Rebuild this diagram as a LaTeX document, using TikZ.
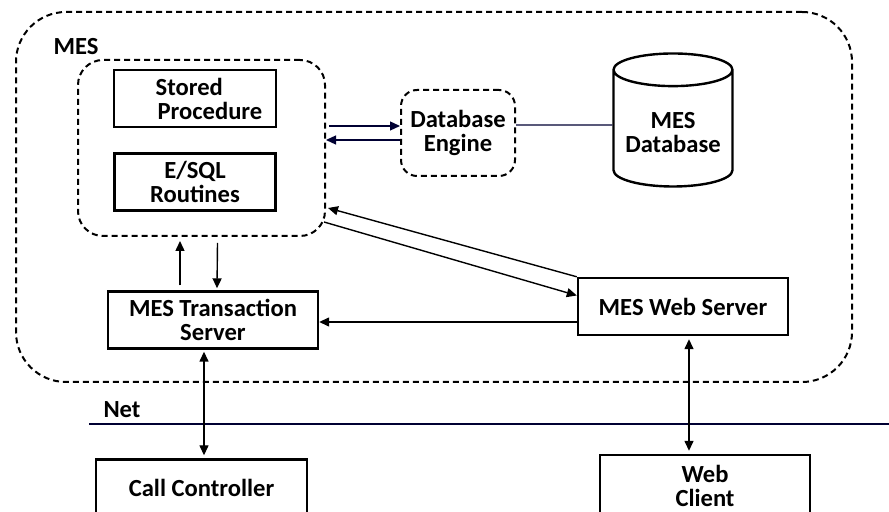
\documentclass[tikz,border=0pt]{standalone}
\usepackage{fontspec}
\setmainfont{Carlito}
\usetikzlibrary{arrows.meta,positioning,calc,shapes.geometric}

\begin{document}
\begin{tikzpicture}[x=0.5pt, y=-0.5pt,
        txt/.style={font=\bfseries\fontsize{12.3}{12}\selectfont, align=center},
        box/.style={txt, draw, line width=1.2pt, minimum width=105pt, minimum height=28.5pt, inner sep=2pt},
        grp/.style={txt, draw, line width=1pt, dash pattern=on 3pt off 2pt},
        dbase/.style={txt, draw, line width=1.2pt, cylinder, shape border rotate=90, aspect=0.3,
                      minimum width=59.5pt, minimum height=66.5pt},
        link/.style={line width=0.6pt, black!80!blue},
        arr/.style={-{Triangle[length=5pt, width=4.5pt]}, line width=0.7pt},
        darr/.style={{Triangle[length=5pt, width=4.5pt]}-{Triangle[length=5pt, width=4.5pt]}, line width=0.7pt}]
  \useasboundingbox (0,0) rectangle (889,512);
  % MES system
  \node[grp, minimum width=418pt, minimum height=185pt, rounded corners=25pt] (mes) at (434,197) {};
  \node[txt] (meslbl) at (76,47) {MES};
  \node[grp, minimum width=123.5pt, minimum height=88pt, rounded corners=12.5pt] (inner) at (201.5,148) {};
  \node[box, minimum width=81pt, align=left] (sp) at (195,98.5) {\hspace*{14pt}Stored\\\hspace*{15pt}Procedure};
  \node[box, minimum width=80.5pt, below=12pt of sp] (esql) {E/SQL\\Routines};
  \node[grp, minimum width=57pt, minimum height=43pt, rounded corners=8pt] (dbe) at (458,133) {Database\\Engine};
  \node[dbase] (db) at (673,132.5) {MES\\Database};
  \node[box] (ts) at (213,320) {MES Transaction\\Server};
  \node[box] (ws) at (683,306.5) {MES Web Server};
  % outside
  \node[txt] (netlbl) at (122,410) {Net};
  \coordinate (netL) at (89,424);
  \coordinate (netR) at (889,424);
  \node[box, minimum width=105.5pt] (cc) at (201.5,488) {Call Controller};
  \node[box, minimum height=31pt] (wc) at (705,486) {Web\\Client};
  % connectors
  \draw[link] (netL) -- (netR);
  \draw[link] ($(dbe.east)+(0,-8)$) -- ($(db.west)+(0,-7.5)$);
  \draw[arr, link] ($(inner.east)+(3,-22)$) -- ($(dbe.west)+(0,-7)$);
  \draw[arr, link] ($(dbe.west)+(0,7)$) -- ($(inner.east)+(0,-8)$);
  \draw[arr] (ws.north west) -- ($(inner.east)+(2,60)$);
  \draw[arr] ($(inner.east)+(-2,74)$) -- ($(ws.west)+(0,-11)$);
  \draw[arr] ($(ws.west)+(0,15.5)$) -- ($(ts.east)+(0,2)$);
  \draw[arr] ($(ts.north)+(-33,-5)$) -- ($(inner.south)+(-21.5,4)$);
  \draw[arr] ($(inner.south)+(16,6)$) -- ($(ts.north)+(4,-2)$);
  \draw[darr] ($(ts.south)+(-9,2)$) -- ($(cc.north)+(2.5,-3)$);
  \draw[darr] ($(ws.south)+(6,3)$) -- ($(wc.north)+(-16,-3)$);
\end{tikzpicture}
\end{document}
